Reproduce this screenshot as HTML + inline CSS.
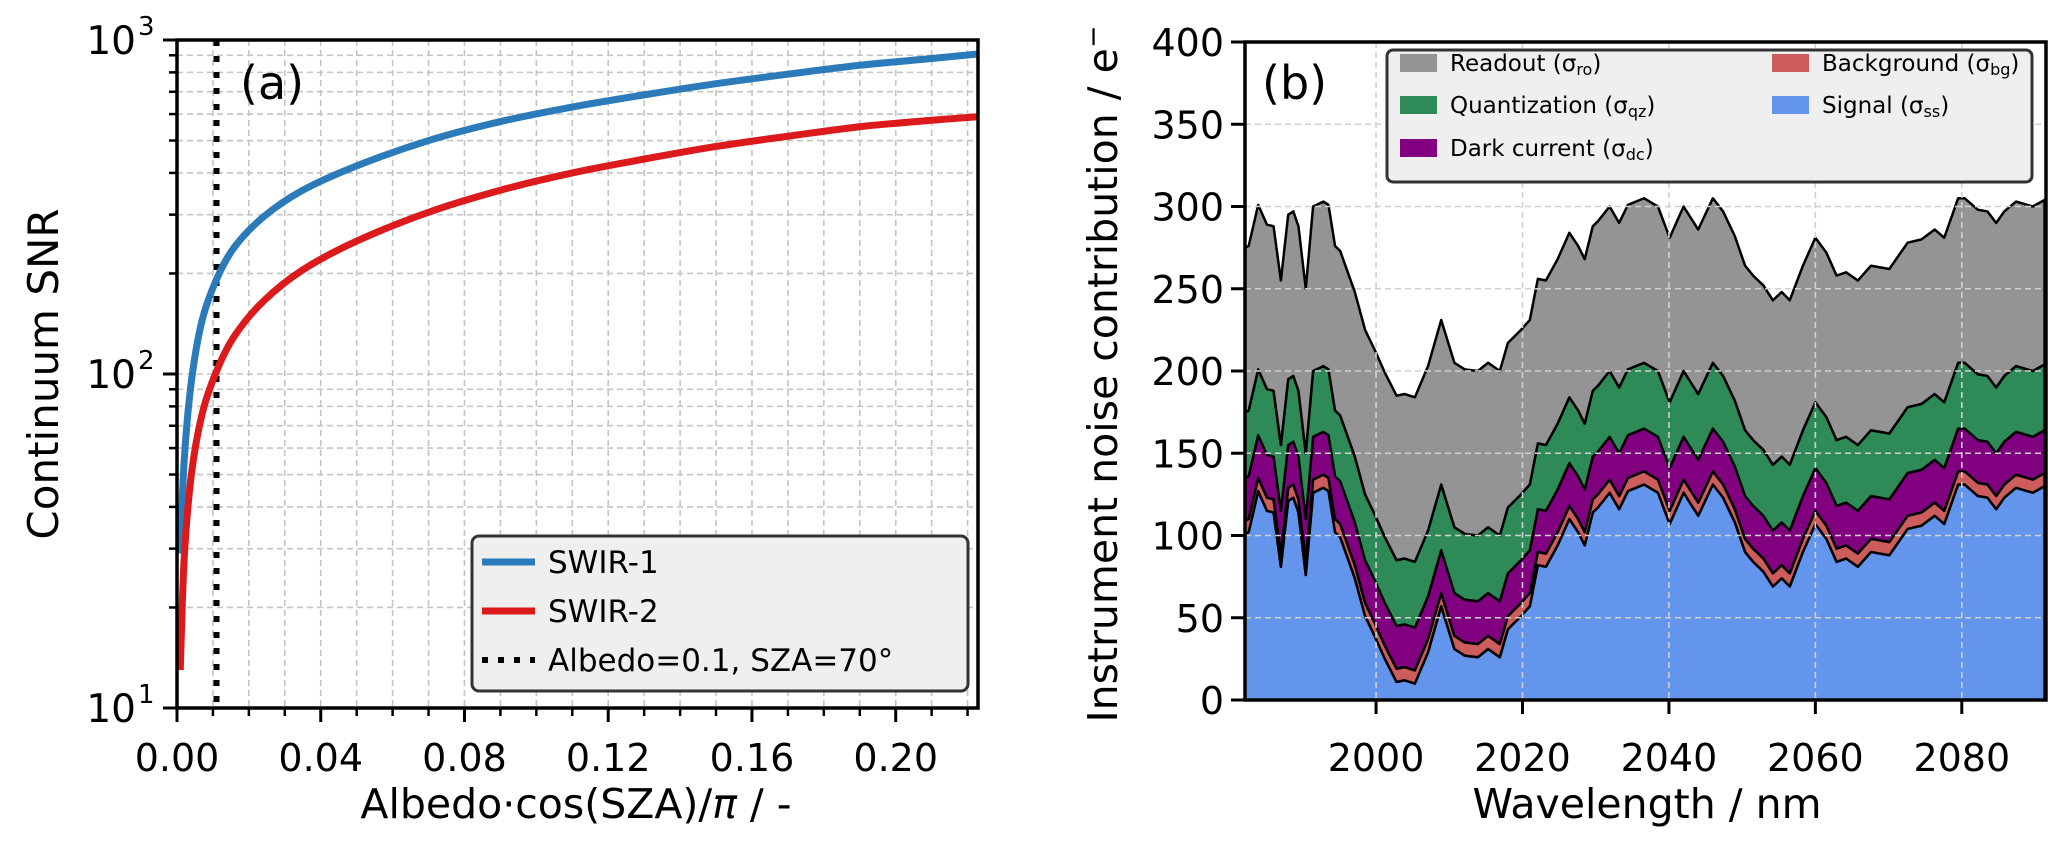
<!DOCTYPE html>
<html><head><meta charset="utf-8"><style>
html,body{margin:0;padding:0;background:#fff;}
svg{display:block;font-family:"DejaVu Sans","Liberation Sans",sans-serif;}
</style></head><body>
<svg id="fig" width="2067" height="852" viewBox="0 0 2067 852" xmlns="http://www.w3.org/2000/svg">
<g id="pa"></g>
<g id="pb"></g>
</svg>
<script>
// ---- Panel (a) data ----
const albedoX = [0.0009,0.002,0.004,0.007,0.011,0.016,0.024,0.035,0.05,0.07,0.09,0.11,0.13,0.15,0.17,0.19,0.21,0.2229];
const snrSwir1 = [29,55,95,145,192,240,295,355,420,500,570,630,685,740,790,840,880,908];
const snrSwir2 = [13,28,50,76,102,130,165,205,250,305,355,400,440,480,515,550,575,589];
const xTicksA = [0.00,0.04,0.08,0.12,0.16,0.20];
const refAlbedo = 0.011;
// ---- Panel (b) data ----
const wavelength = [1982.1,1982.6,1983.9,1985.1,1986.0,1987.0,1988.0,1988.7,1989.4,1990.4,1991.4,1992.8,1993.5,1994.4,1995.1,1997.1,1998.5,1999.8,2001.2,2002.8,2003.9,2005.3,2007.1,2008.9,2010.7,2012.1,2013.9,2015.3,2016.9,2018.0,2019.8,2021.0,2022.1,2023.2,2024.8,2026.4,2027.6,2028.5,2029.6,2030.3,2031.9,2033.2,2034.4,2036.6,2038.5,2040.1,2042.0,2044.0,2046.0,2047.4,2049.0,2050.4,2051.5,2052.9,2054.2,2055.4,2056.5,2058.3,2060.0,2061.5,2062.9,2064.2,2065.8,2067.6,2070.1,2072.6,2074.5,2076.3,2077.6,2079.5,2080.4,2082.2,2083.5,2084.7,2085.8,2087.4,2089.7,2091.3];
const signal = [101,102,127,115,114,81,121,123,114,76,126,129,127,102,99,74,51,39,25,11,12,10,29,57,31,27,26,31,26,43,51,57,82,81,94,110,102,94,114,117,126,116,127,131,126,107,126,112,131,123,108,90,84,78,69,74,69,90,107,98,84,86,81,90,88,104,106,112,107,131,131,124,123,116,123,129,126,130];
const background = [8,8,8,8,8,8,8,8,8,8,8,8,8,8,8,8,8,8,8,8,8,8,8,8,8,8,8,8,8,8,8,8,8,8,8,8,8,8,8,8,8,8,8,8,8,8,8,8,8,8,8,8,8,8,8,8,8,8,8,8,8,8,8,8,8,8,8,8,8,8,8,8,8,8,8,8,8,8];
const darkCurrent = [26,26,26,26,26,26,26,26,26,26,26,26,26,26,26,26,26,26,26,26,26,26,26,26,26,26,26,26,26,26,26,26,26,26,26,26,26,26,26,26,26,26,26,26,26,26,26,26,26,26,26,26,26,26,26,26,26,26,26,26,26,26,26,26,26,26,26,26,26,26,26,26,26,26,26,26,26,26];
const quantization = [40,40,40,40,40,40,40,40,40,40,40,40,40,40,40,40,40,40,40,40,40,40,40,40,40,40,40,40,40,40,40,40,40,40,40,40,40,40,40,40,40,40,40,40,40,40,40,40,40,40,40,40,40,40,40,40,40,40,40,40,40,40,40,40,40,40,40,40,40,40,40,40,40,40,40,40,40,40];
const readout = [100,100,100,100,100,100,100,100,100,100,100,100,100,100,100,100,100,100,100,100,100,100,100,100,100,100,100,100,100,100,100,100,100,100,100,100,100,100,100,100,100,100,100,100,100,100,100,100,100,100,100,100,100,100,100,100,100,100,100,100,100,100,100,100,100,100,100,100,100,100,100,100,100,100,100,100,100,100];
const xTicksB = [2000,2020,2040,2060,2080];
const yTicksB = [0,50,100,150,200,250,300,350,400];

const NS="http://www.w3.org/2000/svg";
function mk(parent,tag,attrs,text){const e=document.createElementNS(NS,tag);for(const k in attrs)e.setAttribute(k,attrs[k]);if(text!==undefined)e.textContent=text;parent.appendChild(e);return e;}

// ===== Panel A =====
const A={l:177,r:978,t:40,b:708,xmin:0,xmax:0.2229};
const ax=v=>A.l+(v-A.xmin)/(A.xmax-A.xmin)*(A.r-A.l);
const ay=v=>A.b-(Math.log10(v)-1)/2*(A.b-A.t);
const pa=document.getElementById('pa');
const gA=mk(pa,'g',{});


for(let i=1;i<=22;i++){const x=ax(i*0.01);mk(gA,'line',{x1:x,x2:x,y1:A.t,y2:A.b,stroke:'#c4c4c4','stroke-width':1.6,'stroke-dasharray':'6,4'});}
for(let d=1;d<=2;d++)for(let m=1;m<=9;m++){const v=m*Math.pow(10,d);if(v<=10||v>=1000)continue;const y=ay(v);mk(gA,'line',{x1:A.l,x2:A.r,y1:y,y2:y,stroke:'#c4c4c4','stroke-width':1.6,'stroke-dasharray':'6,4'});}
const ref=mk(pa,'line',{x1:ax(refAlbedo),x2:ax(refAlbedo),y1:A.t,y2:A.b,stroke:'#000','stroke-width':6,'stroke-dasharray':'6,10'});


function smooth(pts){let d=`M${pts[0][0]},${pts[0][1]}`;for(let i=0;i<pts.length-1;i++){const p0=pts[Math.max(0,i-1)],p1=pts[i],p2=pts[i+1],p3=pts[Math.min(pts.length-1,i+2)];d+=` C${p1[0]+(p2[0]-p0[0])/6},${p1[1]+(p2[1]-p0[1])/6} ${p2[0]-(p3[0]-p1[0])/6},${p2[1]-(p3[1]-p1[1])/6} ${p2[0]},${p2[1]}`;}return d;}
const l1=mk(pa,'path',{d:smooth(albedoX.map((x,i)=>[ax(x),ay(snrSwir1[i])])),fill:'none',stroke:'#2b7bba','stroke-width':7});


const l2=mk(pa,'path',{d:smooth(albedoX.map((x,i)=>[ax(x),ay(snrSwir2[i])])),fill:'none',stroke:'#dc1a1c','stroke-width':7});


mk(pa,'rect',{x:A.l,y:A.t,width:A.r-A.l,height:A.b-A.t,fill:'none',stroke:'#000','stroke-width':3.5});
for(let i=0;i<=22;i++){const x=ax(i*0.01);const major=i%4===0;mk(pa,'line',{x1:x,x2:x,y1:A.b,y2:A.b+(major?14:8),stroke:'#000','stroke-width':major?3:2.5});}
xTicksA.forEach(v=>{const t=mk(pa,'text',{x:ax(v),y:771,'font-size':38,'text-anchor':'middle'},v.toFixed(2));});
for(let d=1;d<=3;d++)for(let m=1;m<=9;m++){const v=m*Math.pow(10,d);if(v<10||v>1000)continue;const y=ay(v);mk(pa,'line',{x1:A.l-(m===1?14:8),x2:A.l,y1:y,y2:y,stroke:'#000','stroke-width':m===1?3:2.5});}
[1,2,3].forEach(e=>{const t=mk(pa,'text',{x:136,y:ay(Math.pow(10,e))+14,'font-size':39,'text-anchor':'end'},'10');mk(pa,'text',{x:138,y:ay(Math.pow(10,e))-5,'font-size':26},String(e));});
let t=mk(pa,'text',{x:576,y:818,'font-size':41,'text-anchor':'middle'});
t.textContent='Albedo·cos(SZA)/';mk(t,'tspan',{'font-style':'italic'},'π');mk(t,'tspan',{},' / -');
t=mk(pa,'text',{x:0,y:0,'font-size':42,'text-anchor':'middle',transform:'translate(58,374) rotate(-90)'},'Continuum SNR');
t=mk(pa,'text',{x:240,y:99,'font-size':46},'(a)');
const lgA=mk(pa,'g',{});


mk(lgA,'rect',{x:472,y:536,width:496,height:155,rx:7,fill:'#efefef',stroke:'#333','stroke-width':3});
[['SWIR-1','#2b7bba',null,562],['SWIR-2','#dc1a1c',null,611],['Albedo=0.1, SZA=70°','#000','6,10',660]].forEach(([lab,c,da,y])=>{const g=mk(lgA,'g',{});const a={x1:482,x2:535,y1:y,y2:y,stroke:c,'stroke-width':da?6:7};if(da)a['stroke-dasharray']=da;mk(g,'line',a);mk(g,'text',{x:548,y:y+11,'font-size':31},lab);});

// ===== Panel B =====
const B={l:1245,r:2046,t:42,b:700,xmin:1982.1,xmax:2091.5,ymin:0,ymax:400};
const bx=v=>B.l+(v-B.xmin)/(B.xmax-B.xmin)*(B.r-B.l);
const by=v=>B.b-(v-B.ymin)/(B.ymax-B.ymin)*(B.b-B.t);
const pb=document.getElementById('pb');
const layers=[['signal',signal,'#6495ed'],['background',background,'#cd5c5c'],['dark-current',darkCurrent,'#800080'],['quantization',quantization,'#2e8b57'],['readout',readout,'#949494']];
let base=wavelength.map(()=>0);
layers.forEach(([name,arr,col])=>{const top=base.map((b,i)=>b+arr[i]);let d='M'+wavelength.map((w,i)=>`${bx(w)},${by(top[i])}`).join(' L');for(let i=wavelength.length-1;i>=0;i--)d+=` L${bx(wavelength[i])},${by(base[i])}`;d+='Z';const p=mk(pb,'path',{d,fill:col,stroke:'#000','stroke-width':2.5,'stroke-linejoin':'round'});base=top;});
const gB=mk(pb,'g',{});


xTicksB.forEach(v=>mk(gB,'line',{x1:bx(v),x2:bx(v),y1:B.t,y2:B.b,stroke:'#d0d0d0','stroke-width':1.6,'stroke-dasharray':'6,4'}));
yTicksB.forEach(v=>{if(v>0&&v<400)mk(gB,'line',{x1:B.l,x2:B.r,y1:by(v),y2:by(v),stroke:'#d0d0d0','stroke-width':1.6,'stroke-dasharray':'6,4'});});
mk(pb,'rect',{x:B.l,y:B.t,width:B.r-B.l,height:B.b-B.t,fill:'none',stroke:'#000','stroke-width':3.5});
xTicksB.forEach(v=>{mk(pb,'line',{x1:bx(v),x2:bx(v),y1:B.b,y2:B.b+14,stroke:'#000','stroke-width':3});const tt=mk(pb,'text',{x:bx(v),y:771,'font-size':38,'text-anchor':'middle'},String(v));});
yTicksB.forEach(v=>{mk(pb,'line',{x1:B.l-14,x2:B.l,y1:by(v),y2:by(v),stroke:'#000','stroke-width':3});const tt=mk(pb,'text',{x:1224,y:by(v)+14,'font-size':38,'text-anchor':'end'},String(v));});
t=mk(pb,'text',{x:1647,y:818,'font-size':41,'text-anchor':'middle'},'Wavelength / nm');
t=mk(pb,'text',{x:0,y:0,'font-size':41,'text-anchor':'middle',transform:'translate(1117,374) rotate(-90)'});
t.textContent='Instrument noise contribution / e';mk(t,'tspan',{dy:-15,'font-size':27},'−');
t=mk(pb,'text',{x:1262,y:99,'font-size':46},'(b)');
const lgB=mk(pb,'g',{});


mk(lgB,'rect',{x:1387,y:50,width:645,height:132,rx:6,fill:'#efefef',stroke:'#333','stroke-width':3});
[['Readout (σ','ro',')','#949494',1400,63],['Quantization (σ','qz',')','#2e8b57',1400,105],['Dark current (σ','dc',')','#800080',1400,148],['Background (σ','bg',')','#cd5c5c',1772,63],['Signal (σ','ss',')','#6495ed',1772,105]].forEach(([a,s,c2,col,x,y])=>{const g=mk(lgB,'g',{});mk(g,'rect',{x:x,y:y-9,width:37,height:18,fill:col});const tx=mk(g,'text',{x:x+50,y:y+8,'font-size':23},a);mk(tx,'tspan',{'font-size':16,dy:4},s);mk(tx,'tspan',{dy:-4},c2);});
</script>
</body></html>
